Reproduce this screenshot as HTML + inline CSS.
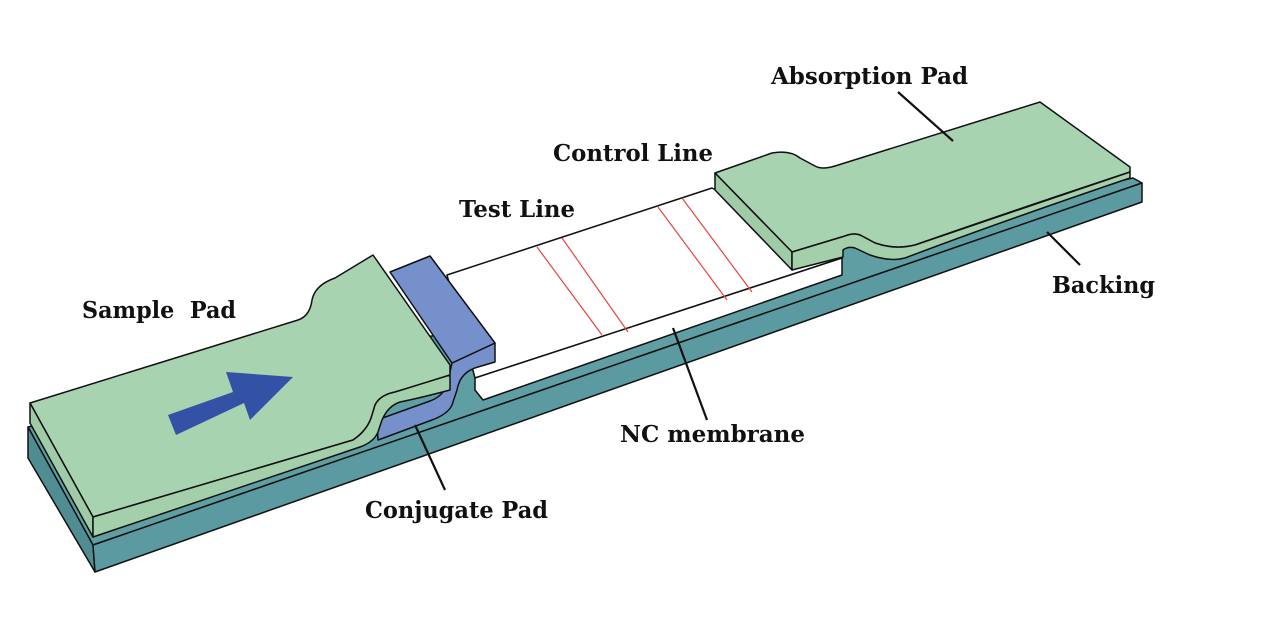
<!DOCTYPE html>
<html><head><meta charset="utf-8"><style>
html,body{margin:0;padding:0;background:#fff;width:1280px;height:630px;overflow:hidden}
text{font-family:"DejaVu Serif","Liberation Serif",serif;font-weight:bold;font-size:23px;fill:#111}
</style></head><body>
<svg width="1280" height="630" viewBox="0 0 1280 630" xmlns="http://www.w3.org/2000/svg" stroke="#111" stroke-width="1.5" stroke-linejoin="round">
<!-- backing -->
<polygon points="28,427 1133,178 1142,183 93,545" fill="#5f9ea3"/>
<polygon points="28,427 93,545 95,572 28,458" fill="#4f8d92"/>
<polygon points="93,545 1142,183 1142,202 95,572" fill="#5a9aa0"/>
<!-- NC membrane -->
<polygon points="447,275 712,188 842,258 475,378" fill="#fff"/>
<polygon points="475,378 842,258 842,275 483,400 475,390" fill="#fff"/>
<g stroke="#e8453c" stroke-width="1.2">
<line x1="537" y1="247" x2="602" y2="335"/>
<line x1="562" y1="238" x2="628" y2="332"/>
<line x1="658" y1="207" x2="727" y2="300"/>
<line x1="682" y1="198" x2="752" y2="292"/>
</g>
<!-- absorption pad -->
<path d="M715,173 L772,153 Q790,150 800,158 L815,166 Q822,170 835,166 L1040,102 L1130,167 L1130,172 Q1000,215 915,245 Q895,250 875,243 L862,236 Q855,232 845,236 L792,252 Z" fill="#a8d3b0"/>
<path d="M715,173 L792,252 L792,270 L715,190 Z" fill="#9fcba7"/>
<path d="M792,252 L845,236 Q855,232 862,236 L875,243 Q895,250 915,245 L1130,172 L1130,178 Q1000,222 905,258 Q890,262 870,255 L855,248 Q848,246 843,250 L843,257 L792,270 Z" fill="#a3cfab"/>
<!-- conjugate pad -->
<path d="M452,363 L495,343 L495,362 L478,367 Q460,372 457,390 L452,405 Q448,414 432,420 L378,440 L377,420 L430,401 Q444,396 447,383 L450,372 Z" fill="#7690cc"/>
<polygon points="390,272 430,256 495,343 452,363" fill="#7690cc"/>
<!-- sample pad -->
<path d="M30,403 L298,320 Q310,316 312,300 Q315,285 335,278 L373,255 L450,365 L450,375 Q420,385 395,392 Q380,395 375,405 L372,415 Q368,430 353,440 L93,517 Z" fill="#a8d3b0"/>
<path d="M30,403 L93,517 L93,537 L30,423 Z" fill="#9fcba7"/>
<path d="M93,517 L353,440 Q368,430 372,415 L375,405 Q380,395 395,392 L450,375 L450,390 Q420,398 400,402 Q388,406 382,420 L378,432 Q374,442 360,447 L93,537 Z" fill="#a3cfab"/>
<!-- arrow -->
<polygon points="168,415 233,392 226,372 293,377 250,420 244,403 176,435" fill="#3352a6" stroke="none"/>
<!-- leaders -->
<g stroke-width="2.2">
<line x1="898" y1="92" x2="953" y2="141"/>
<line x1="1047" y1="232" x2="1080" y2="265"/>
<line x1="673" y1="328" x2="707" y2="420"/>
<line x1="415" y1="425" x2="445" y2="490"/>
</g>
<g stroke="none">
<text x="771" y="84" textLength="197" lengthAdjust="spacingAndGlyphs">Absorption Pad</text>
<text x="553" y="161" textLength="160" lengthAdjust="spacingAndGlyphs">Control Line</text>
<text x="459" y="217" textLength="116" lengthAdjust="spacingAndGlyphs">Test Line</text>
<text x="82" y="318" xml:space="preserve" textLength="154" lengthAdjust="spacingAndGlyphs">Sample  Pad</text>
<text x="1052" y="293" textLength="103" lengthAdjust="spacingAndGlyphs">Backing</text>
<text x="620" y="442" textLength="185" lengthAdjust="spacingAndGlyphs">NC membrane</text>
<text x="365" y="518" textLength="183" lengthAdjust="spacingAndGlyphs">Conjugate Pad</text>
</g>
</svg>
</body></html>
